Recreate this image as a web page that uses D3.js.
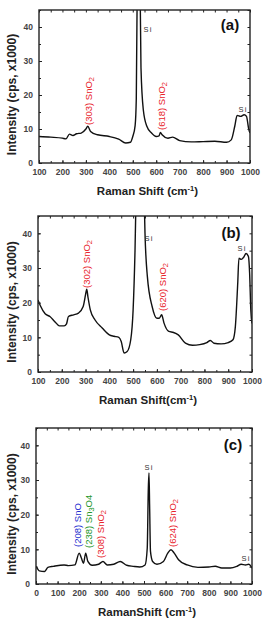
<!DOCTYPE html>
<html><head><meta charset="utf-8">
<script src="https://cdn.jsdelivr.net/npm/d3@7"></script>
<style>body{margin:0;background:#fff}svg{display:block}</style>
</head><body>
<svg id="c" width="263" height="627"></svg>
<script>
// Panel (a) spectrum: [Raman shift, intensity x1000]
const shiftA = [100,150,200,215,230,245,260,280,300,308,320,350,400,440,470,490,500,510,515,520,525,530,535,545,560,580,600,612,618,625,650,670,700,750,800,850,900,920,935,945,960,975,985,995,1000];
const intA   = [7.8,7.6,7.3,7.1,8.5,8.1,8.6,8.8,10.0,10.8,9.3,8.3,7.8,7.0,5.9,6.1,7.8,11,19,60,70,60,28,15.6,10.8,8.8,7.8,8.0,9.0,8.3,7.3,7.6,6.6,6.2,6.3,6.4,6.1,6.8,10.8,14.0,13.7,14.2,13.7,9.8,8.8];
// Panel (b)
const shiftB = [100,110,130,150,170,190,210,220,228,250,270,290,300,305,310,320,340,370,400,420,440,450,462,475,490,500,508,515,530,545,550,560,580,600,610,620,630,650,670,690,720,750,780,810,825,840,870,900,920,930,940,945,955,965,975,985,990,995,1000];
const intB   = [20.8,19.1,16.8,16.0,14.6,13.3,13.3,13.9,16.0,16.5,17.0,18.9,22.3,23.9,21.7,17.9,15.0,12.7,10.7,10.3,10.0,8.8,5.5,5.9,9.3,17.9,35,60,80,55,40,27.5,18.9,15.5,15.5,16.5,14.1,11.7,11.4,10.7,8.3,7.7,7.9,8.5,9.1,8.3,8.1,8.5,9.3,13.1,25.6,32.8,32.5,33.1,34.2,33.3,28.5,17.9,14.0];
// Panel (c)
const shiftC = [0,5,15,40,55,80,130,150,180,200,210,220,230,240,260,290,310,330,360,390,420,450,480,505,515,520,523,526,530,540,560,590,610,625,640,660,700,750,800,830,860,900,930,950,970,985,1000];
const intC   = [5.1,4.6,3.8,3.6,4.8,5.1,5.5,5.3,5.5,8.9,7.5,6.0,8.9,6.5,5.4,5.7,6.5,5.5,5.7,6.5,5.4,5.1,4.9,5.5,10.3,27.5,32,22.7,9.4,6.5,5.7,6.5,8.9,9.9,8.9,7.0,5.5,4.8,4.9,5.1,4.6,4.6,5.1,5.7,5.5,5.7,4.6];

const xTicksAB = [100,200,300,400,500,600,700,800,900,1000];
const xTicksC  = [0,100,200,300,400,500,600,700,800,900,1000];
const yTicks   = [0,10,20,30,40];

const annA = [
  {lbl:"(303) SnO", sub:"2", col:"#e8232b"},
  {lbl:"(618) SnO", sub:"2", col:"#e8232b"}
];
const annB = [
  {lbl:"(302) SnO", sub:"2", col:"#e8232b"},
  {lbl:"(620) SnO", sub:"2", col:"#e8232b"}
];
const annC = [
  {lbl:"(208) SnO", sub:"", col:"#1f2fd0"},
  {lbl:"(238) Sn", sub:"3", tail:"O4", col:"#23962a"},
  {lbl:"(308) SnO", sub:"2", col:"#e8232b"},
  {lbl:"(624) SnO", sub:"2", col:"#e8232b"}
];

const FF = "Arial, Liberation Sans, sans-serif";
const svg = d3.select("#c");
const panels = [
  {id:"a", xs:shiftA, ys:intA, xd:[100,1000], xr:[39,250], yr:[163,10], ticks:xTicksAB, title:"Raman Shift (cm", tag:"(a)",
   ann:annA, annPos:[[88,125],[161,130]], si:[[148,32],[243,112]], tagPos:[230,30]},
  {id:"b", xs:shiftB, ys:intB, xd:[100,1000], xr:[38,252], yr:[372,216], ticks:xTicksAB, title:"Raman Shift(cm", tag:"(b)",
   ann:annB, annPos:[[86,288],[162,311]], si:[[149,241],[242,251]], tagPos:[231,238]},
  {id:"c", xs:shiftC, ys:intC, xd:[0,1000], xr:[36,252], yr:[584,428], ticks:xTicksC, title:"RamanShift (cm", tag:"(c)",
   ann:annC, annPos:[[77,547],[88,548],[100,558],[172,547]], si:[[149,470],[246,561]], tagPos:[233,450]}
];

panels.forEach(p => {
  const x = d3.scaleLinear().domain(p.xd).range(p.xr);
  const y = d3.scaleLinear().domain([0,45]).range(p.yr);
  const g = svg.append("g");
  const cid = "clip"+p.id;
  g.append("clipPath").attr("id",cid).append("rect")
    .attr("x",p.xr[0]).attr("y",p.yr[1]).attr("width",p.xr[1]-p.xr[0]).attr("height",p.yr[0]-p.yr[1]);
  const data = p.xs.map((v,i)=>[v,p.ys[i]]);
  g.append("path").datum(data).attr("clip-path",`url(#${cid})`)
    .attr("fill","none").attr("stroke","#111").attr("stroke-width",1.4).attr("stroke-linejoin","round")
    .attr("d", d3.line().x(d=>x(d[0])).y(d=>y(d[1])).curve(d3.curveMonotoneX));

  const xMinor = d3.range(p.xd[0], p.xd[1]+1, 50);
  const yMinor = d3.range(0, 46, 5);
  const ax = (sel)=>sel.call(s=>s.select(".domain").remove()).selectAll("line").attr("stroke","#222");
  const lab = s=>s.selectAll("text").attr("font-size",8.5).attr("font-weight","bold").attr("fill","#444").attr("font-family",FF);
  g.append("g").attr("transform",`translate(0,${p.yr[0]})`)
    .call(d3.axisBottom(x).tickValues(xMinor).tickSize(-2).tickFormat("")).call(ax);
  g.append("g").attr("transform",`translate(0,${p.yr[0]})`)
    .call(d3.axisBottom(x).tickValues(p.ticks).tickSize(-3).tickPadding(6).tickFormat(d3.format("d")))
    .call(ax).call(lab);
  g.append("g").attr("transform",`translate(0,${p.yr[1]})`)
    .call(d3.axisTop(x).tickValues(xMinor).tickSize(-2.5).tickFormat("")).call(ax);
  g.append("g").attr("transform",`translate(${p.xr[0]},0)`)
    .call(d3.axisLeft(y).tickValues(yMinor).tickSize(-2).tickFormat("")).call(ax);
  g.append("g").attr("transform",`translate(${p.xr[0]},0)`)
    .call(d3.axisLeft(y).tickValues(yTicks).tickSize(-3).tickPadding(6).tickFormat(d3.format("d")))
    .call(ax).call(lab);
  g.append("g").attr("transform",`translate(${p.xr[1]},0)`)
    .call(d3.axisRight(y).tickValues(yMinor).tickSize(-2.5).tickFormat("")).call(ax);
  g.append("rect").attr("x",p.xr[0]).attr("y",p.yr[1]).attr("width",p.xr[1]-p.xr[0]).attr("height",p.yr[0]-p.yr[1])
    .attr("fill","none").attr("stroke","#222").attr("stroke-width",1.4);

  const cx = (p.xr[0]+p.xr[1])/2 + 3;
  const xt = g.append("text").attr("x",cx).attr("y",p.yr[0]+32).attr("text-anchor","middle")
    .attr("font-family",FF).attr("font-weight","bold").attr("font-size",11.5).attr("fill","#222");
  xt.append("tspan").text(p.title);
  xt.append("tspan").attr("font-size",7.5).attr("dy",-4.5).text("-1");
  xt.append("tspan").attr("dy",4.5).text(")");
  const cy = (p.yr[0]+p.yr[1])/2 + 8;
  g.append("text").attr("transform",`translate(16,${cy}) rotate(-90)`).attr("text-anchor","middle")
    .attr("font-family",FF).attr("font-weight","bold").attr("font-size",12).attr("fill","#222")
    .text("Intensity (cps, x1000)");

  g.append("text").attr("x",p.tagPos[0]).attr("y",p.tagPos[1]).attr("text-anchor","middle")
    .attr("font-family",FF).attr("font-weight","bold").attr("font-size",15).attr("fill","#111").text(p.tag);

  p.si.forEach(s=>{
    g.append("text").attr("x",s[0]).attr("y",s[1]).attr("text-anchor","middle")
      .attr("font-family",FF).attr("font-size",7.5).attr("fill","#333").attr("letter-spacing",1.2).text("Si");
  });

  p.ann.forEach((a,i)=>{
    const [ax_, ay_] = p.annPos[i];
    const t = g.append("text").attr("transform",`translate(${ax_+3.5},${ay_}) rotate(-90)`)
      .attr("font-family",FF).attr("font-size",9.5).attr("fill",a.col);
    t.append("tspan").text(a.lbl);
    if (a.sub) t.append("tspan").attr("font-size",7.5).attr("dy",2.5).text(a.sub);
    if (a.tail) t.append("tspan").attr("dy",-2.5).text(a.tail);
  });
});
</script>
</body></html>
